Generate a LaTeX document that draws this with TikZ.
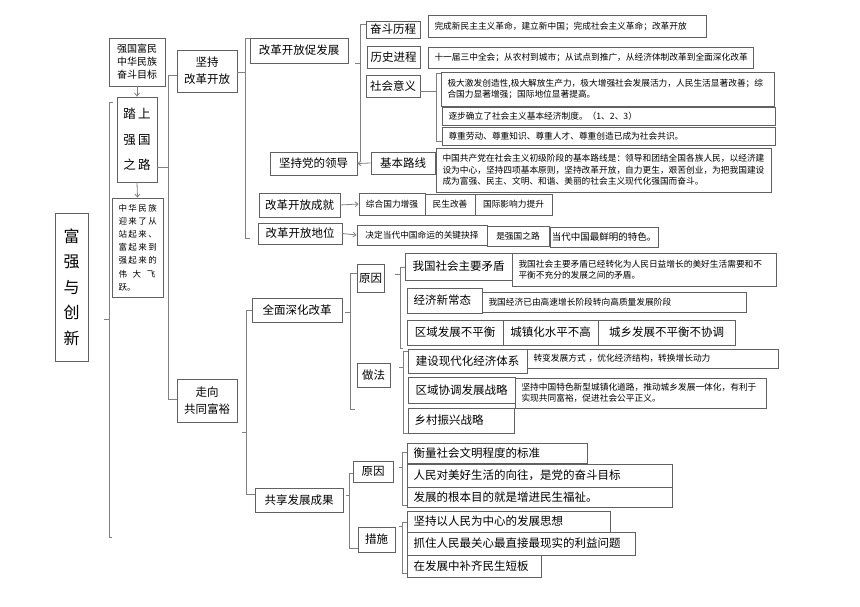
\documentclass[tikz,border=0pt]{standalone}
\usepackage{fontspec}
\setmainfont{Noto Sans CJK SC}
\usetikzlibrary{arrows.meta}
\definecolor{boxc}{gray}{0.38}
\definecolor{linec}{gray}{0.50}
\tikzset{
 lbl/.style={draw=boxc, line width=0.8pt, inner sep=0pt, align=center, font=\fontsize{11.5}{15}\selectfont},
 sml/.style={lbl, font=\fontsize{8.7}{11.5}\selectfont},
 desc/.style={sml, align=left},
 bigl/.style={lbl, align=left},
 ln/.style={draw=linec, line width=0.8pt},
 arr/.style={ln, -{Straight Barb[length=3pt,width=5pt]}},
}
\newcommand{\bx}[7][lbl]{\node[#1, minimum width={#5-#3}, minimum height={#6-#4}] (#2) at ({(#3+#5)/2},{(#4+#6)/2}) {#7};}
\newcommand{\dx}[7][desc]{\pgfmathsetmacro{\tw}{#5-#3-13}\node[#1, text width=\tw pt, minimum width={#5-#3}, minimum height={#6-#4}] (#2) at ({(#3+#5)/2},{(#4+#6)/2}) {#7};}
\begin{document}
\begin{tikzpicture}[x=1pt, y=-1pt]
\fill[white] (0,0) rectangle (860,607);
\useasboundingbox (0,0) rectangle (860,607);

% left column
\bx[lbl, font=\fontsize{16}{25.5}\selectfont]{fq}{55}{213}{88}{361}{富\\强\\与\\创\\新}
\bx[lbl, font=\fontsize{10}{13}\selectfont]{mb}{109}{38}{165}{86}{强国富民\\中华民族\\奋斗目标}
\bx[lbl, font=\fontsize{12.5}{25.5}\selectfont]{tq}{117}{97}{157}{182}{踏\,上\\强\,国\\之\,路}
\dx[desc, font=\fontsize{8.5}{13.2}\selectfont]{fy}{112}{198}{163}{297}{中\,华\,民\,族\\迎\,来\,了\,从\\站\,起\,来\,、\\富\,起\,来\,到\\强\,起\,来\,的\\\makebox[37pt]{伟\hfill 大\hfill 飞}\\跃。}
\bx[lbl, font=\fontsize{11.5}{17}\selectfont]{jc}{177}{50}{237}{92}{坚持\\改革开放}
\bx[lbl, font=\fontsize{11.5}{17}\selectfont]{zx}{177}{379}{237}{422}{走向\\共同富裕}

% upper branch
\bx{cf}{250}{38}{348}{63}{改革开放促发展}
\bx{fd}{366}{21}{420}{38}{奋斗历程}
\dx{fdd}{428}{15}{706}{37}{完成新民主主义革命，建立新中国；完成社会主义革命；改革开放}
\bx{ls}{367}{46}{420}{68}{历史进程}
\dx{lsd}{428}{47}{753}{68}{十一届三中全会；从农村到城市；从试点到推广，从经济体制改革到全面深化改革}
\bx{sh}{366}{75}{420}{97}{社会意义}
\dx{sh1}{441}{72}{774}{106}{极大激发创造性,极大解放生产力，极大增强社会发展活力，人民生活显著改善；综\\合国力显著增强；国际地位显著提高。}
\dx{sh2}{442}{107}{775}{125}{逐步确立了社会主义基本经济制度。（1、2、3）}
\dx{sh3}{442}{127}{775}{145}{尊重劳动、尊重知识、尊重人才、尊重创造已成为社会共识。}
\bx{jb}{270}{152}{357}{175}{坚持党的领导}
\bx{lx}{371}{152}{435}{174}{基本路线}
\dx{lxd}{436}{148}{771}{192}{中国共产党在社会主义初级阶段的基本路线是：领导和团结全国各族人民，以经济建\\设为中心，坚持四项基本原则，坚持改革开放，自力更生，艰苦创业，为把我国建设\\成为富强、民主、文明、和谐、美丽的社会主义现代化强国而奋斗。}
\bx{cj}{259}{193}{340}{217}{改革开放成就}
\bx[sml]{cj1}{359}{193}{425}{215}{综合国力增强}
\bx[sml]{cj2}{425}{194}{475}{215}{民生改善}
\bx[sml]{cj3}{475}{194}{552}{215}{国际影响力提升}
\bx{dw}{258}{223}{342}{244}{改革开放地位}
\bx[sml]{dw1}{357}{225}{487}{245}{决定当代中国命运的关键抉择}
\bx[sml]{dw2}{487}{226}{549}{246}{是强国之路}
\bx[sml, font=\fontsize{9.5}{12}\selectfont]{dw3}{550}{227}{658}{247}{当代中国最鲜明的特色。}

% lower branch
\bx{sg}{252}{298}{342}{322}{全面深化改革}
\bx{yya}{357}{264}{384}{292}{原因}
\bx{zf}{357}{363}{390}{387}{做法}
\bx{md}{405}{253}{512}{280}{我国社会主要矛盾}
\dx{mdd}{512}{253}{776}{286}{我国社会主要矛盾已经转化为人民日益增长的美好生活需要和不\\平衡不充分的发展之间的矛盾。}
\dx[bigl]{xct}{407}{288}{482}{313}{经济新常态}
\dx{xctd}{482}{292}{746}{312}{我国经济已由高速增长阶段转向高质量发展阶段}
\bx{qya}{407}{320}{503}{345}{区域发展不平衡}
\bx{qyb}{503}{320}{598}{345}{城镇化水平不高}
\bx{qyc}{598}{320}{735}{345}{城乡发展不平衡不协调}
\bx{jsx}{408}{349}{527}{373}{建设现代化经济体系}
\dx{jsxd}{527}{349}{778}{368}{转变发展方式 ，优化经济结构，转换增长动力}
\bx{qyx}{408}{377}{515}{403}{区域协调发展战略}
\dx{qyxd}{515}{378}{766}{408}{坚持中国特色新型城镇化道路，推动城乡发展一体化，有利于\\实现共同富裕，促进社会公平正义。}
\dx[bigl]{xc}{408}{408}{514}{433}{乡村振兴战略}

\bx{gx}{255}{488}{343}{512}{共享发展成果}
\bx{yyb}{353}{461}{393}{482}{原因}
\bx{cs}{358}{527}{395}{552}{措施}
\dx[bigl]{ra}{407}{443}{587}{463}{衡量社会文明程度的标准}
\dx[bigl]{rb}{407}{464}{672}{487}{人民对美好生活的向往，是党的奋斗目标}
\dx[bigl]{rc}{407}{487}{672}{507}{发展的根本目的就是增进民生福祉。}
\dx[bigl]{ca}{407}{511}{610}{532}{坚持以人民为中心的发展思想}
\dx[bigl]{cb}{407}{532}{635}{555}{抓住人民最关心最直接最现实的利益问题}
\dx[bigl]{cc}{407}{555}{541}{577}{在发展中补齐民生短板}

% connectors
\draw[arr] (mb.south) -- (tq.north);
\draw[arr] (tq.south) -- (fy.north);
\draw[ln] (104,319) -- (109,319);
\draw[ln] (113,102) -- (109,102) -- (109,537) -- (112,537);
\draw[ln] (tq.east |- 0,167) -- (168,167);
\draw[ln] (jc.west |- 0,75) -- (168,75) -- (168,399) -- (zx.west |- 0,399);
\draw[ln] (jc.east |- 0,72) -- (245,72);
\draw[ln] (cf.west |- 0,38) -- (245,38) -- (245,238) -- (250,238);
\draw[ln] (355,63) -- (360,63);
\draw[ln] (fd.west |- 0,24) -- (360,24) -- (360,161);
\draw[arr] (lx.west) -- (jb.east);
\draw[ln] (sh.east |- 0,91) -- (436,91);
\draw[ln] (sh1.west |- 0,73) -- (436,73) -- (436,141) -- (sh3.west |- 0,141);
\draw[arr] (cj.east) -- (cj1.west);
\draw[arr] (dw.east) -- (dw1.west);

\draw[ln] (sg.west) -- (246,310) -- (246,494) -- (gx.west |- 0,494);
\draw[ln] (242,432) -- (246,432);
\draw[ln] (345,312) -- (350,312);
\draw[ln] (yya.west |- 0,273) -- (350,273) -- (350,409) -- (355,409);
\draw[ln] (395,274) -- (400,274);
\draw[ln] (md.west |- 0,267) -- (400,267) -- (400,348) -- (403,348);
\draw[ln] (399,367) -- (403,367);
\draw[ln] (jsx.west |- 0,351) -- (403,351) -- (403,433) -- (xc.west |- 0,433);
\draw[ln] (346,495) -- (349,495);
\draw[ln] (yyb.west |- 0,473) -- (349,473) -- (349,548) -- (cs.west |- 0,548);
\draw[ln] (399,467) -- (402,467);
\draw[ln] (ra.west |- 0,452) -- (402,452) -- (402,505) -- (rc.west |- 0,505);
\draw[ln] (399,526) -- (402,526);
\draw[ln] (ca.west |- 0,522) -- (402,522) -- (402,573) -- (cc.west |- 0,573);
\end{tikzpicture}
\end{document}
